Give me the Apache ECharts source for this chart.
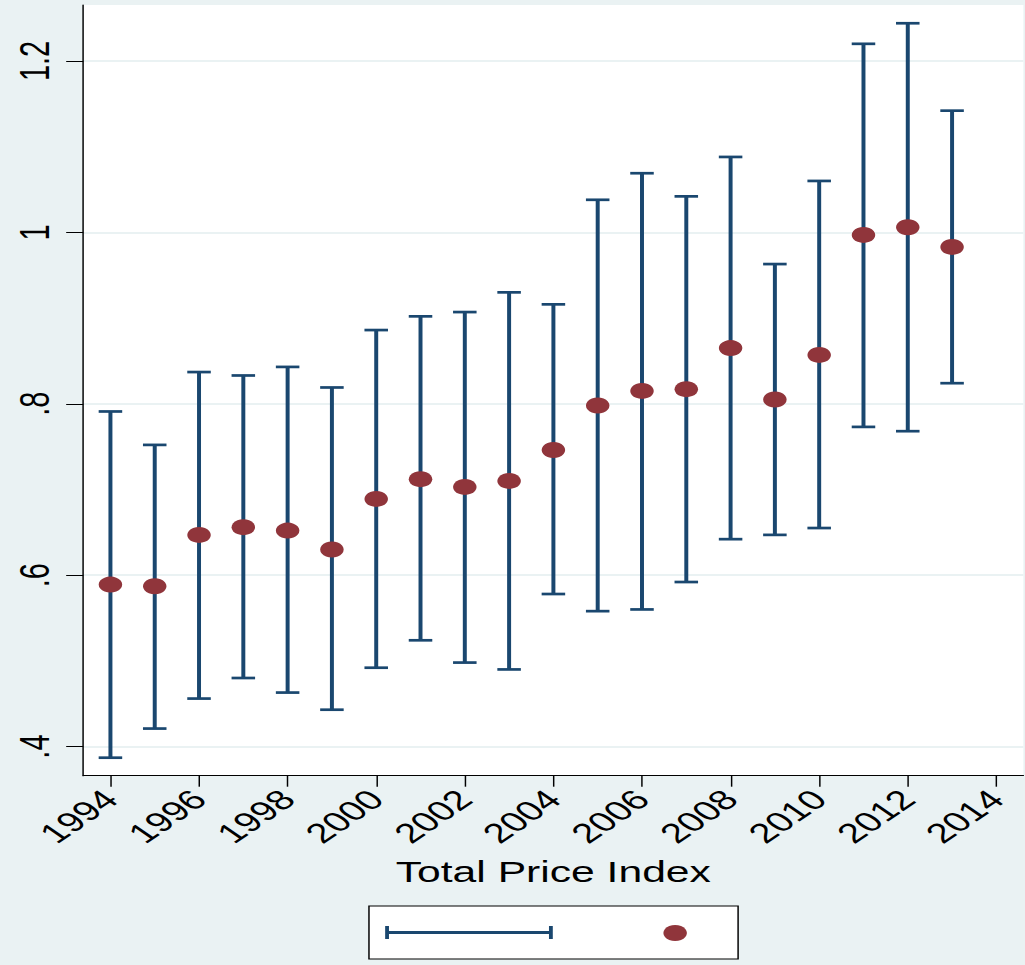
<!DOCTYPE html>
<html>
<head>
<meta charset="utf-8">
<title>Total Price Index</title>
<script src="https://cdn.jsdelivr.net/npm/echarts@6/dist/echarts.min.js"></script>
<style>
  html, body { margin: 0; padding: 0; background: #eaf2f3; overflow: hidden; }
  #wrap { width: 1025px; height: 965px; overflow: hidden; }
  /* the chart is laid out narrow and widened horizontally */
  #chart { width: 697px; height: 965px; transform: scaleX(1.4706); transform-origin: 0 0; }
</style>
</head>
<body>
<div id="wrap"><div id="chart"></div></div>
<script>
// yearly point estimates with lower / upper confidence bounds
const years = [1994, 1995, 1996, 1997, 1998, 1999, 2000, 2001, 2002, 2003,
               2004, 2005, 2006, 2007, 2008, 2009, 2010, 2011, 2012, 2013];
const estimates = [0.589, 0.587, 0.647, 0.656, 0.652, 0.630, 0.689, 0.712, 0.703, 0.710,
                   0.746, 0.798, 0.815, 0.817, 0.865, 0.805, 0.857, 0.997, 1.006, 0.983];
const lowerBounds = [0.387, 0.421, 0.456, 0.480, 0.463, 0.443, 0.492, 0.524, 0.498, 0.490,
                     0.578, 0.558, 0.560, 0.592, 0.642, 0.647, 0.655, 0.773, 0.768, 0.824];
const upperBounds = [0.791, 0.752, 0.837, 0.833, 0.843, 0.819, 0.886, 0.902, 0.907, 0.930,
                     0.916, 1.038, 1.069, 1.042, 1.088, 0.963, 1.060, 1.220, 1.244, 1.142];

// axis ticks and their labels
const xTickValues = [1994, 1996, 1998, 2000, 2002, 2004, 2006, 2008, 2010, 2012, 2014];
const yTickValues = [0.4, 0.6, 0.8, 1.0, 1.2];
const yTickLabels = ['.4', '.6', '.8', '1', '1.2'];
const xTitle = 'Total Price Index';

const NAVY = '#1a476f';
const MAROON = '#90353b';
const FONT = '"Liberation Sans", Arial, Helvetica, sans-serif';

const ciData = years.map((y, i) => [y, lowerBounds[i], upperBounds[i]]);
const estData = years.map((y, i) => [y, estimates[i]]);

// range cap drawn as a horizontal line with end ticks
const capIcon = 'path://M0,0h2.6v13h-2.6z M2.6,5h108.8v3h-108.8z M111.4,0h2.6v13h-2.6z';

const chart = echarts.init(document.getElementById('chart'), null, { renderer: 'svg' });

chart.setOption({
  animation: false,
  backgroundColor: '#eaf2f3',
  textStyle: { fontFamily: FONT },
  grid: {
    left: 56.6, right: 1.1, top: 5, bottom: 189.3,
    show: true, backgroundColor: '#ffffff', borderWidth: 0,
    containLabel: false, outerBoundsMode: 'none'
  },
  xAxis: {
    type: 'value',
    min: 1993.386,
    max: 2014.61,
    name: xTitle,
    nameLocation: 'middle',
    nameGap: 82,
    nameTextStyle: { fontSize: 29, color: '#000', fontFamily: FONT },
    axisLine: { show: true, onZero: false, lineStyle: { color: '#000', width: 1 } },
    axisTick: { show: true, length: 11, customValues: xTickValues, lineStyle: { color: '#000', width: 1 } },
    axisLabel: {
      customValues: xTickValues,
      rotate: 45, margin: 19, fontSize: 27.5, color: '#000', fontFamily: FONT,
      formatter: v => String(v)
    },
    splitLine: { show: false }
  },
  yAxis: {
    type: 'value',
    min: 0.366,
    max: 1.2653,
    axisLine: { show: true, onZero: false, lineStyle: { color: '#000', width: 1 } },
    axisTick: { show: true, length: 11.6, customValues: yTickValues, lineStyle: { color: '#000', width: 1 } },
    axisLabel: {
      customValues: yTickValues,
      rotate: 90, margin: 19, fontSize: 29, color: '#000', fontFamily: FONT,
      formatter: v => {
        const i = yTickValues.findIndex(t => Math.abs(t - v) < 1e-9);
        return i >= 0 ? yTickLabels[i] : '';
      }
    },
    splitLine: { show: true, lineStyle: { color: '#eaf2f3', width: 2 } }
  },
  legend: [
    {
      left: 250.9, top: 906,
      padding: [20, 126, 20, 11],
      itemWidth: 114, itemHeight: 13,
      backgroundColor: '#ffffff', borderColor: '#000', borderWidth: 1, borderRadius: 0,
      selectedMode: false,
      data: [{ name: 'Confidence interval', icon: capIcon }],
      formatter: () => ''
    },
    {
      left: 451.1, top: 925, z: 10,
      padding: 0,
      itemWidth: 16, itemHeight: 16,
      selectedMode: false,
      data: [{ name: 'Estimate', icon: 'circle' }],
      formatter: () => ''
    }
  ],
  series: [
    {
      name: 'Confidence interval',
      type: 'custom',
      z: 2,
      itemStyle: { color: NAVY },
      encode: { x: 0, y: [1, 2] },
      data: ciData,
      renderItem: (params, api) => {
        const x = api.value(0);
        const lo = api.coord([x, api.value(1)]);
        const hi = api.coord([x, api.value(2)]);
        const half = 8;
        const style = { stroke: NAVY, lineWidth: 2.7, fill: null, lineCap: 'butt' };
        return {
          type: 'group',
          children: [
            { type: 'line', shape: { x1: lo[0], y1: lo[1], x2: hi[0], y2: hi[1] }, style },
            { type: 'line', shape: { x1: hi[0] - half, y1: hi[1], x2: hi[0] + half, y2: hi[1] }, style },
            { type: 'line', shape: { x1: lo[0] - half, y1: lo[1], x2: lo[0] + half, y2: lo[1] }, style }
          ]
        };
      }
    },
    {
      name: 'Estimate',
      type: 'scatter',
      z: 3,
      symbol: 'circle',
      symbolSize: 16,
      itemStyle: { color: MAROON, opacity: 1 },
      data: estData
    }
  ]
});
</script>
</body>
</html>
